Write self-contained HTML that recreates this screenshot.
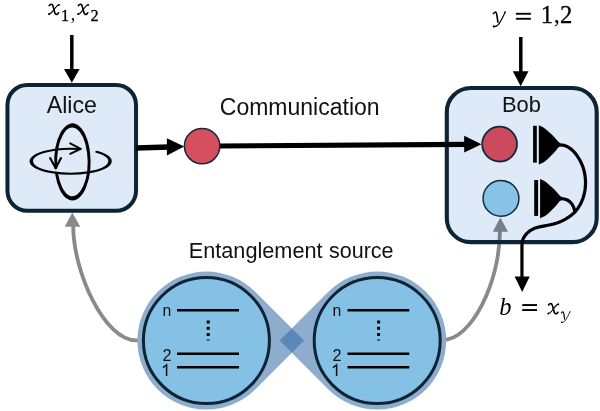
<!DOCTYPE html>
<html><head><meta charset="utf-8">
<style>
html,body{margin:0;padding:0;background:#fff;width:600px;height:411px;overflow:hidden}
svg{display:block;will-change:transform}
.sans{font-family:"Liberation Sans",sans-serif}
.serif{font-family:"Liberation Serif",serif}
</style></head>
<body>
<svg width="600" height="411" viewBox="0 0 600 411">
<defs>
<g id="mx">
  <path d="M1.3,-9.6 C2.0,-10.6 3.4,-11.4 4.4,-10.6 C5.5,-9.5 6.1,-4.4 6.9,-2.5 C7.5,-1.0 8.6,-0.5 9.5,-1.0 C10.1,-1.3 10.5,-1.9 10.7,-2.4" fill="none" stroke="#000" stroke-width="1.65" stroke-linecap="round"/>
  <path d="M11.2,-10.5 C9.7,-10.4 8.1,-8.5 6.0,-5.6 C4.0,-2.8 2.6,-0.9 0.9,-0.9" fill="none" stroke="#000" stroke-width="1.1" stroke-linecap="round"/>
  <circle cx="11.0" cy="-10.2" r="0.9"/>
  <circle cx="1.1" cy="-1.1" r="1.0"/>
</g>
<g id="my">
  <path d="M0.9,-8.9 C1.5,-10.0 2.6,-10.8 3.5,-10.0 C4.3,-9.0 4.6,-4.5 5.3,-0.4" fill="none" stroke="#000" stroke-width="1.6" stroke-linecap="round"/>
  <path d="M12.6,-10.6 C11.0,-7.0 8.5,-1.8 6.0,1.8 C4.6,3.6 2.8,4.3 1.0,4.1" fill="none" stroke="#000" stroke-width="1.15" stroke-linecap="round"/>
  <circle cx="1.2" cy="3.9" r="1.05"/>
  <circle cx="12.4" cy="-10.2" r="0.75"/>
</g>
</defs>
<rect width="600" height="411" fill="#fff"/>

<!-- gray arrows -->
<g opacity="0.46"><path d="M140,340.4 L136.3,340.4 C104,340.4 73.2,271.1 73.2,226" fill="none" stroke="#000" stroke-width="3.8"/>
<polygon points="64.7,226.8 80.3,226.8 72.3,212.5" fill="#000"/></g>

<!-- Alice box -->
<rect x="7.45" y="84.9" width="128.6" height="125.95" rx="20" fill="#deeaf7" stroke="#0c2434" stroke-width="4"/>
<!-- Bob box -->
<rect x="446.8" y="87.95" width="149.9" height="154.2" rx="24" fill="#deeaf7"/>
<g opacity="0.46"><path d="M442.4,340 C472,340 499.9,281.2 499.9,231" fill="none" stroke="#000" stroke-width="3.8"/>
<polygon points="492.8,231.7 508,231.7 500.3,217.5" fill="#000"/></g>
<rect x="446.8" y="87.95" width="149.9" height="154.2" rx="24" fill="none" stroke="#0c2434" stroke-width="4.1"/>

<!-- top arrows -->
<line x1="71.8" y1="35" x2="71.8" y2="71" stroke="#000" stroke-width="3.5"/>
<polygon points="64,69.1 79.6,69.1 71.8,82.8" fill="#000"/>
<line x1="520.8" y1="37" x2="520.8" y2="73" stroke="#000" stroke-width="3.5"/>
<polygon points="512.8,71.3 528.5,71.3 520.7,86.2" fill="#000"/>

<!-- communication arrows -->
<line x1="136" y1="148" x2="169" y2="147" stroke="#000" stroke-width="5.6"/>
<polygon points="166.9,138.3 166.9,155.4 184.2,146.4" fill="#000"/>
<line x1="218" y1="146" x2="467" y2="144.3" stroke="#000" stroke-width="5.2"/>
<polygon points="464.2,135.8 464.2,152.5 481.5,144.2" fill="#000"/>

<!-- circles -->
<circle cx="202.1" cy="146.1" r="17.7" fill="#d64f5e" stroke="#142a3a" stroke-width="1.5"/>
<circle cx="499.6" cy="144.1" r="17.4" fill="#cc4a5e" stroke="#142a3a" stroke-width="1.8"/>
<circle cx="501" cy="198.4" r="17.9" fill="#87c3e7" stroke="#142a3a" stroke-width="1.5"/>

<!-- Alice icon -->
<g fill="none" stroke="#000" stroke-linecap="round">
  <path transform="translate(72.40,161.90) scale(0.710,1)" d="M-22.051,12.700 A23.521,36.500 0 1 0 -23.272,5.300" stroke-width="4.1"/>
  <polyline points="50.1,158.1 55.7,168.2 61,158.1" stroke-width="2.1" stroke-linejoin="round"/>
  <path transform="translate(70.65,161.20) scale(1,0.575)" d="M26.250,-16.195 A39.350,21.739 0 1 1 9.150,-21.143" stroke-width="3.5"/>
  <polyline points="70.2,143.3 80.7,148.8 70.2,153.8" stroke-width="2" stroke-linejoin="round"/>
</g>

<!-- detectors -->
<rect x="533.1" y="125.8" width="3.7" height="36.8" fill="#000"/>
<path d="M538.80,125.20 C539.45,125.50 541.30,126.13 542.70,127.00 C544.10,127.87 545.52,129.00 547.20,130.40 C548.88,131.80 551.30,133.93 552.80,135.40 C554.30,136.87 555.23,138.10 556.20,139.20 C557.17,140.30 557.87,141.35 558.60,142.00 C559.33,142.65 560.27,142.92 560.60,143.10 L560.60,146.20 C560.27,146.38 559.33,146.63 558.60,147.30 C557.87,147.97 557.17,149.08 556.20,150.20 C555.23,151.32 554.30,152.45 552.80,154.00 C551.30,155.55 548.88,158.03 547.20,159.50 C545.52,160.97 544.10,161.95 542.70,162.80 C541.30,163.65 539.45,164.30 538.80,164.60 Z" fill="#000"/>
<rect x="534.2" y="180" width="3.9" height="35.9" fill="#000"/>
<path d="M540.10,179.00 C540.75,179.30 542.60,179.93 544.00,180.80 C545.40,181.67 546.82,182.80 548.50,184.20 C550.18,185.60 552.60,187.73 554.10,189.20 C555.60,190.67 556.53,191.90 557.50,193.00 C558.47,194.10 559.17,195.15 559.90,195.80 C560.63,196.45 561.57,196.72 561.90,196.90 L561.90,200.00 C561.57,200.18 560.63,200.43 559.90,201.10 C559.17,201.77 558.47,202.88 557.50,204.00 C556.53,205.12 555.60,206.25 554.10,207.80 C552.60,209.35 550.18,211.83 548.50,213.30 C546.82,214.77 545.40,215.75 544.00,216.60 C542.60,217.45 540.75,218.10 540.10,218.40 Z" fill="#000"/>
<g fill="none" stroke="#000" stroke-width="3.2" stroke-linejoin="round">
  <path d="M559.46,145.02 L560.97,145.01 L562.42,145.14 L563.83,145.40 L565.18,145.78 L566.48,146.28 L567.74,146.88 L568.95,147.58 L570.11,148.37 L571.23,149.25 L572.30,150.19 L573.33,151.19 L574.32,152.25 L575.26,153.36 L576.16,154.50 L577.01,155.66 L577.83,156.85 L578.61,158.06 L579.34,159.28 L580.04,160.53 L580.69,161.78 L581.30,163.06 L581.87,164.35 L582.40,165.66 L582.89,166.98 L583.34,168.32 L583.75,169.68 L584.11,171.05 L584.43,172.43 L584.71,173.83 L584.95,175.24 L585.15,176.66 L585.30,178.09 L585.42,179.53 L585.49,180.97 L585.52,182.41 L585.50,183.86 L585.45,185.30 L585.35,186.75 L585.21,188.19 L585.02,189.62 L584.80,191.05 L584.53,192.47 L584.22,193.87 L583.86,195.26 L583.47,196.64 L583.03,198.00 L582.55,199.35 L582.02,200.67 L581.45,201.97 L580.84,203.24 L580.19,204.50 L579.49,205.72 L578.75,206.91 L577.96,208.07 L577.14,209.20 L576.27,210.30 L575.35,211.36 L574.39,212.38 L573.39,213.36 L572.35,214.30 L571.28,215.21 L570.17,216.08 L569.02,216.91 L567.84,217.70 L566.64,218.46 L565.40,219.18 L564.14,219.86 L562.85,220.51 L561.55,221.12 L560.22,221.69 L558.88,222.23 L557.51,222.74 L556.14,223.20 L554.75,223.63 L553.35,224.03 L551.95,224.39 L550.54,224.72 L549.12,225.02 L547.70,225.29 L546.29,225.55 L544.87,225.80 L543.47,226.05 L542.07,226.32 L540.68,226.60 L539.31,226.91 L537.95,227.26 L536.62,227.65 L535.30,228.09 L534.01,228.60 L532.75,229.17 L531.51,229.83 L530.31,230.57 L529.15,231.40 L528.03,232.32 L526.97,233.32 L525.98,234.40 L525.07,235.54 L524.25,236.74 L523.54,238.00 L522.94,239.31 L522.48,240.65 L522.15,242.02 L521.95,246 L521.95,278"/>
  <path d="M561,198.6 C565,198.6 569.5,200.5 572,204.2 C573.5,206.5 574.5,209 575,211.8" stroke-linecap="round"/>
</g>
<polygon points="514.6,276.6 529.7,276.6 522.2,292" fill="#000"/>

<!-- entanglement source -->
<path d="M255.2,291.8 L304,340.6 L255.2,389.4 A69,69 0 1 1 255.2,291.8 Z" fill="#8eadce"/>
<path d="M328.4,291.8 L279.6,340.6 L328.4,389.4 A69,69 0 1 0 328.4,291.8 Z" fill="#8eadce"/>
<polygon points="279.6,340.6 291.8,328.4 304,340.6 291.8,352.8" fill="#5a88b7"/>
<circle cx="206.4" cy="340.6" r="63" fill="#85c1e5" stroke="#0c2434" stroke-width="3"/>
<circle cx="377.2" cy="340.6" r="63" fill="#85c1e5" stroke="#0c2434" stroke-width="3"/>

<g stroke="#000" stroke-width="2.6">
  <line x1="177" y1="310.3" x2="239" y2="310.3"/>
  <line x1="177" y1="353.7" x2="239" y2="353.7"/>
  <line x1="177" y1="367.3" x2="239" y2="367.3"/>
  <line x1="347.5" y1="310.3" x2="409.3" y2="310.3"/>
  <line x1="347.5" y1="353.7" x2="409.3" y2="353.7"/>
  <line x1="347.5" y1="367.3" x2="409.3" y2="367.3"/>
</g>
<g stroke="#000" stroke-width="3" stroke-dasharray="3 3.26">
  <line x1="208.2" y1="320.6" x2="208.2" y2="340.6"/>
  <line x1="378.6" y1="320.6" x2="378.6" y2="340.6"/>
</g>
<g class="sans" fill="#111">
  <text x="162.4" y="315.8" font-size="15.8">n</text>
  <text x="332.4" y="315.8" font-size="15.8">n</text>
  <text x="162.4" y="360.7" font-size="16.2">2</text>
  <text x="332.4" y="360.7" font-size="16.2">2</text>
</g>
<g stroke="#111" stroke-width="1.5" fill="none">
  <path d="M162.9,367.6 L166.6,365 L166.6,375.9"/>
  <path d="M332.9,367.6 L336.6,365 L336.6,375.9"/>
</g>

<!-- labels -->
<g class="sans" fill="#111">
  <text x="46.75" y="112.5" font-size="23.2">Alice</text>
  <text x="502" y="111.5" font-size="21.9">Bob</text>
  <text x="219.8" y="114.8" font-size="23">Communication</text>
  <text x="188.72" y="258" font-size="21.7">Entanglement</text>
  <text x="329" y="258" font-size="21.5">source</text>
</g>
<g class="serif" fill="#000">
  <use href="#mx" x="47.9" y="15.2"/>
  <text x="61.1" y="20.9" font-size="16.2" stroke="#000" stroke-width="0.3">1</text>
  <text x="70.7" y="19.7" font-size="18">,</text>
  <use href="#mx" x="77.1" y="15.2"/>
  <text x="90.5" y="20.9" font-size="16.3" stroke="#000" stroke-width="0.3">2</text>

  <use href="#my" x="492.6" y="22.5"/>
  <rect x="515.9" y="12.85" width="15" height="1.85"/>
  <rect x="515.9" y="17.85" width="15" height="1.85"/>
  <text x="540.7" y="23.3" font-size="24.7" stroke="#000" stroke-width="0.3">1</text>
  <text x="553.7" y="23.3" font-size="24.7">,</text>
  <text x="560.1" y="23.3" font-size="24.7" stroke="#000" stroke-width="0.3">2</text>

  <text x="499.3" y="314.5" font-size="24.5" font-style="italic">b</text>
  <rect x="522.25" y="304.1" width="14.75" height="1.9"/>
  <rect x="522.25" y="309.1" width="14.75" height="1.9"/>
  <use href="#mx" x="547.3" y="314.6"/>
  <use href="#my" transform="translate(560.8,319.45) scale(0.728)"/>
</g>
</svg>
</body></html>
